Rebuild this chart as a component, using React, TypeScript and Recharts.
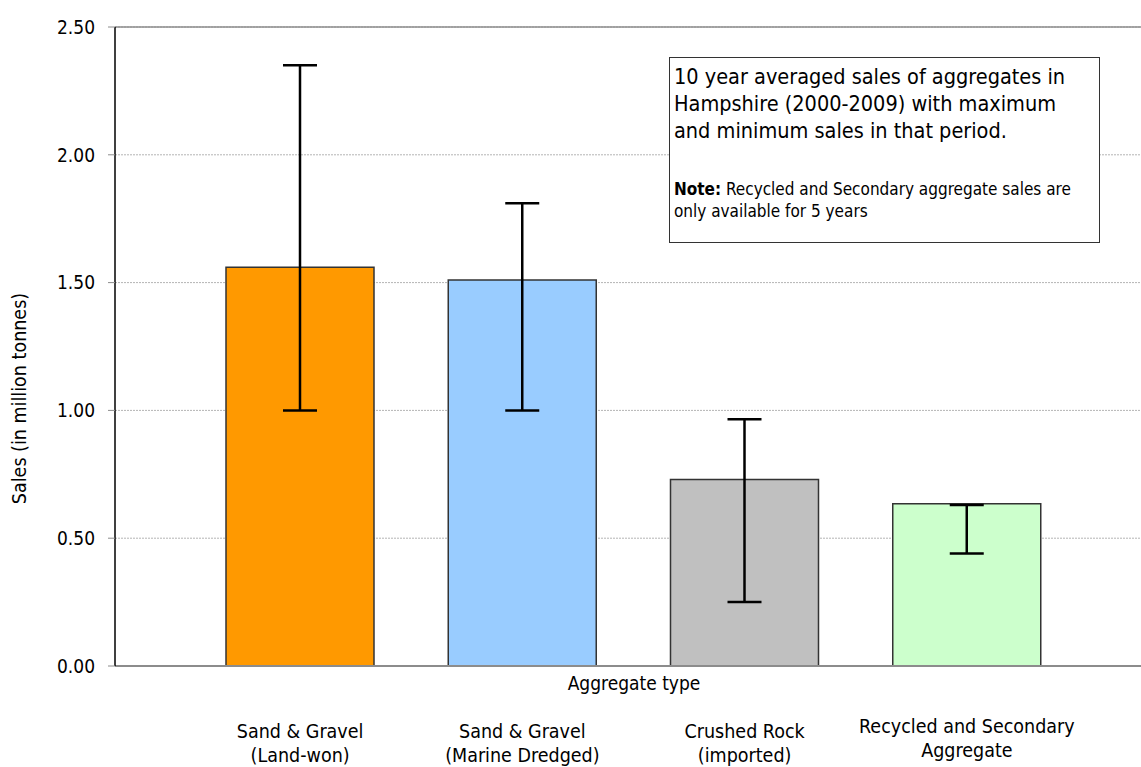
import React from 'react';
import { BarChart, Bar, Cell, XAxis, YAxis, CartesianGrid, ErrorBar, ReferenceLine } from 'recharts';

const categories = [
  ['Sand & Gravel', '(Land-won)'],
  ['Sand & Gravel', '(Marine Dredged)'],
  ['Crushed Rock', '(imported)'],
  ['Recycled and Secondary', 'Aggregate'],
];
const averageSales = [1.56, 1.51, 0.73, 0.635];
const maxSales = [2.35, 1.81, 0.965, 0.63];
const minSales = [1.0, 1.0, 0.25, 0.44];
const barColors = ['#ff9900', '#99ccff', '#c0c0c0', '#ccffcc'];
const yTicks = [0, 0.5, 1, 1.5, 2, 2.5];

const FONT = "Tahoma, 'DejaVu Sans', sans-serif";

const data = categories.map((lines, i) => ({
  name: lines.join(' '),
  lines,
  avg: averageSales[i],
  range: [averageSales[i] - minSales[i], maxSales[i] - averageSales[i]],
}));

const CategoryTick = (props: any) => {
  const { x, y, payload } = props;
  const lines = data[payload.index]?.lines ?? [payload.value];
  // the last label sits a little higher in the original
  const shift = payload.index === 3 ? -5 : 0;
  return (
    <g>
      {lines.map((l: string, i: number) => (
        <text
          key={i}
          x={x}
          y={y + 72 + shift + i * 24}
          textAnchor="middle"
          fontFamily={FONT}
          fontSize={19.5}
          fill="#000"
          style={{ fontStretch: 'condensed' }}
        >
          {l}
        </text>
      ))}
    </g>
  );
};

const YTitle = (props: any) => {
  const { viewBox } = props;
  const cx = 19;
  const cy = viewBox.y + viewBox.height / 2 + 52;
  return (
    <text
      x={cx}
      y={cy}
      transform={`rotate(-90, ${cx}, ${cy})`}
      textAnchor="middle"
      dominantBaseline="central"
      fontFamily={FONT}
      fontSize={19.5}
      fill="#000"
      style={{ fontStretch: 'condensed' }}
    >
      Sales (in million tonnes)
    </text>
  );
};

const XTitle = (props: any) => {
  const { viewBox } = props;
  return (
    <text
      x={viewBox.x + viewBox.width / 2 + 6}
      y={viewBox.y + 24}
      textAnchor="middle"
      fontFamily={FONT}
      fontSize={19}
      fill="#000"
      style={{ fontStretch: 'condensed' }}
    >
      Aggregate type
    </text>
  );
};

const App: React.FC = () => {
  return (
    <div style={{ position: 'absolute', left: 0, top: 0, width: 1141, height: 767, background: '#fff' }}>
      <BarChart
        width={1141}
        height={767}
        data={data}
        margin={{ top: 27, right: 0, bottom: 0, left: 0 }}
        barSize={148}
      >
        <CartesianGrid vertical={false} stroke="#b4b4b4" strokeDasharray="2 1" />
        <ReferenceLine y={2.5} stroke="#8c8c8c" strokeWidth={1.5} />
        <XAxis
          dataKey="name"
          height={101}
          padding={{ left: 74, right: 63 }}
          axisLine={{ stroke: '#8c8c8c', strokeWidth: 2 }}
          tickLine={false}
          tickSize={0}
          tickMargin={0}
          tick={<CategoryTick />}
          interval={0}
          label={<XTitle />}
        />
        <YAxis
          width={115}
          domain={[0, 2.5]}
          ticks={yTicks}
          interval={0}
          tickFormatter={(v: number) => v.toFixed(2)}
          axisLine={{ stroke: '#000', strokeWidth: 1.5 }}
          tickLine={{ stroke: '#8c8c8c' }}
          tickSize={7}
          tickMargin={13}
          tick={{ fill: '#000', fontSize: 19, fontFamily: FONT, style: { fontStretch: 'condensed' } }}
          label={<YTitle />}
        />
        <Bar dataKey="avg" stroke="#333" strokeWidth={1.5} isAnimationActive={false}>
          {data.map((d, i) => (
            <Cell key={d.name} fill={barColors[i]} />
          ))}
          <ErrorBar dataKey="range" width={17} stroke="#000" strokeWidth={2.5} direction="y" />
        </Bar>
      </BarChart>
      <div
        style={{
          position: 'absolute',
          left: 669,
          top: 57,
          width: 431,
          height: 186,
          boxSizing: 'border-box',
          border: '1.5px solid #333',
          background: '#fff',
          padding: '5px 0 0 4px',
          fontFamily: FONT,
          color: '#000',
          fontStretch: 'condensed',
          whiteSpace: 'nowrap',
        }}
      >
        <div style={{ fontSize: 21.5, lineHeight: '27px' }}>
          10 year averaged sales of aggregates in
          <br />
          Hampshire (2000-2009) with maximum
          <br />
          and minimum sales in that period.
        </div>
        <div style={{ fontSize: 17, lineHeight: '22px', marginTop: 34 }}>
          <b>Note:</b> Recycled and Secondary aggregate sales are
          <br />
          only available for 5 years
        </div>
      </div>
    </div>
  );
};

export default App;
